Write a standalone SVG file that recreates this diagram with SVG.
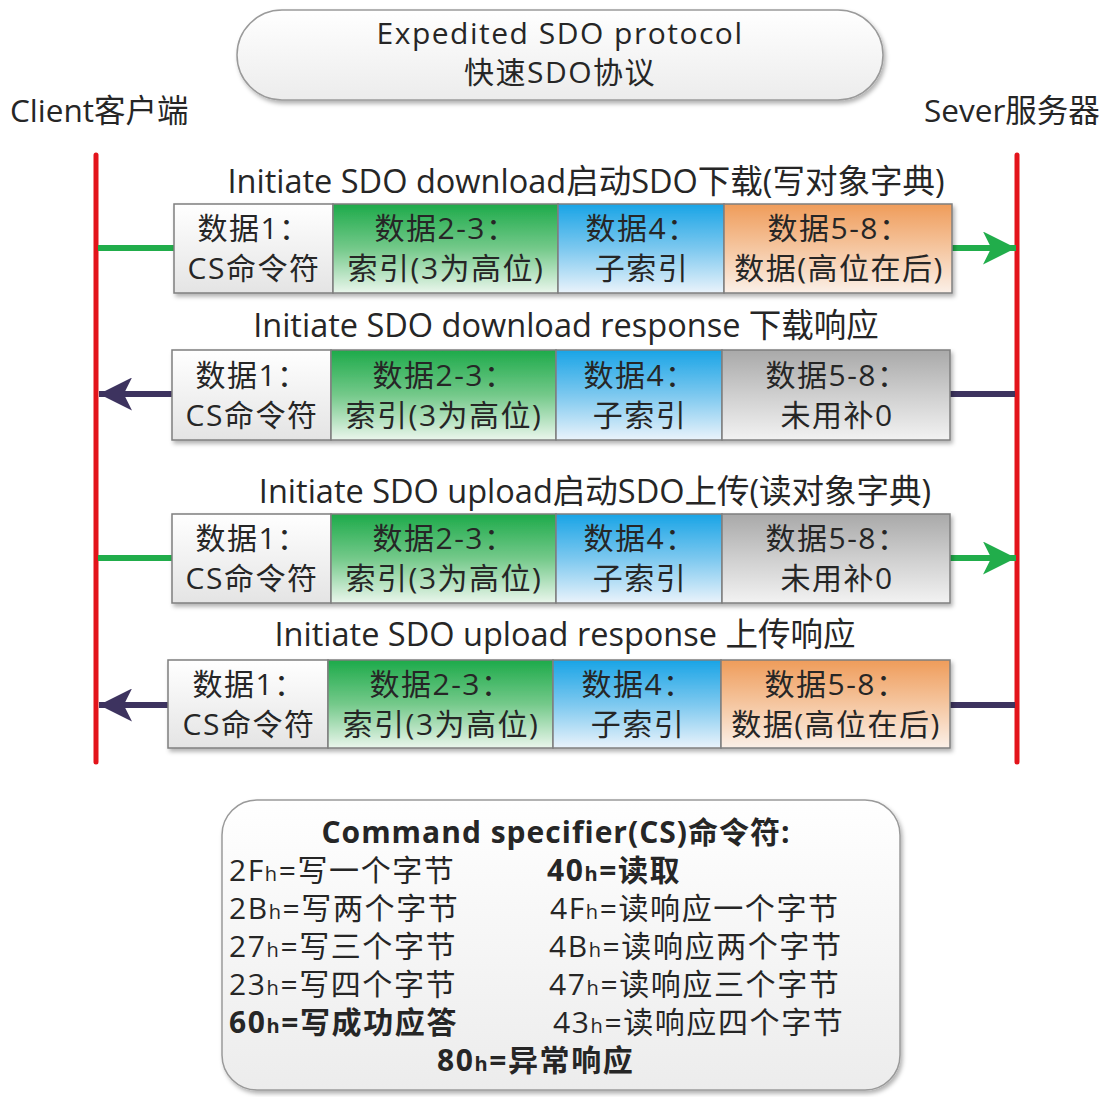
<svg xmlns="http://www.w3.org/2000/svg" width="1114" height="1097" viewBox="0 0 1114 1097">
<defs>
<style>
text{font-family:"Open Sans","Noto Sans CJK SC",sans-serif;fill:#262626}
.t{font-size:30px;letter-spacing:1.5px;text-anchor:middle}
.side{font-size:31.5px}
.lbl{font-size:32.5px;text-anchor:middle}
.c{font-size:30px;letter-spacing:1.5px;text-anchor:middle}
.k{font-size:30px;letter-spacing:1.6px}
.kt{font-size:30px;letter-spacing:1px;text-anchor:middle}
.b{font-weight:bold}
.h{font-size:20px}
.cell{stroke:#7f7f7f;stroke-width:1.5}
.life{stroke:#e3141b;stroke-width:5;stroke-linecap:round}
.g{stroke:#21ad4b;stroke-width:6;fill:none}
.p{stroke:#3d335f;stroke-width:6;fill:none}
</style>
<linearGradient id="gw" x1="0" y1="0" x2="0" y2="1"><stop offset="0" stop-color="#ffffff"/><stop offset="1" stop-color="#e4e4e4"/></linearGradient>
<linearGradient id="gg" x1="0" y1="0" x2="0" y2="1"><stop offset="0" stop-color="#1daa4a"/><stop offset="0.5" stop-color="#74c98a"/><stop offset="1" stop-color="#eaf6ec"/></linearGradient>
<linearGradient id="gb" x1="0" y1="0" x2="0" y2="1"><stop offset="0" stop-color="#19a4e6"/><stop offset="0.5" stop-color="#7cc8ef"/><stop offset="1" stop-color="#eaf3fb"/></linearGradient>
<linearGradient id="go" x1="0" y1="0" x2="0" y2="1"><stop offset="0" stop-color="#ef9c5a"/><stop offset="0.5" stop-color="#f5c6a0"/><stop offset="1" stop-color="#fbf0e8"/></linearGradient>
<linearGradient id="gy" x1="0" y1="0" x2="0" y2="1"><stop offset="0" stop-color="#a9a9a9"/><stop offset="0.5" stop-color="#cfcfcf"/><stop offset="1" stop-color="#f2f2f2"/></linearGradient>
<linearGradient id="gt" x1="0" y1="0" x2="0" y2="1"><stop offset="0" stop-color="#ffffff"/><stop offset="1" stop-color="#ececec"/></linearGradient>
<filter id="sh" x="-5%" y="-10%" width="110%" height="130%"><feDropShadow dx="2" dy="3" stdDeviation="2" flood-color="#000" flood-opacity="0.3"/></filter>
<marker id="ag" viewBox="0 0 10 10" refX="10" refY="5" markerWidth="5.5" markerHeight="5.5" markerUnits="strokeWidth" orient="auto"><path d="M0,0 L10,5 L0,10 L2.5,5 Z" fill="#21ad4b"/></marker>
<marker id="ap" viewBox="0 0 10 10" refX="10" refY="5" markerWidth="5.5" markerHeight="5.5" markerUnits="strokeWidth" orient="auto"><path d="M0,0 L10,5 L0,10 L2.5,5 Z" fill="#3d335f"/></marker>
</defs>
<rect width="1114" height="1097" fill="#ffffff"/>

<g id="title">
<rect x="237" y="10" width="646" height="90" rx="45" fill="url(#gt)" stroke="#9a9a9a" stroke-width="1.5" filter="url(#sh)"/>
<text class="t" x="560" y="44">Expedited SDO protocol</text>
<text class="t" x="560" y="83">快速SDO协议</text>
</g>
<g id="client"><text class="side" x="10" y="122">Client客户端</text><line class="life" x1="96" y1="155" x2="96" y2="762"/></g>
<g id="server"><text class="side" x="924" y="122">Sever服务器</text><line class="life" x1="1017" y1="155" x2="1017" y2="762"/></g>

<g id="connectors">
<line class="g" x1="98" y1="248" x2="174" y2="248"/>
<line class="g" x1="952" y1="248" x2="1016" y2="248" marker-end="url(#ag)"/>
<line class="p" x1="172" y1="394" x2="99" y2="394" marker-end="url(#ap)"/>
<line class="p" x1="950" y1="394" x2="1015" y2="394"/>
<line class="g" x1="98" y1="558" x2="172" y2="558"/>
<line class="g" x1="950" y1="558" x2="1016" y2="558" marker-end="url(#ag)"/>
<line class="p" x1="168" y1="705" x2="99" y2="705" marker-end="url(#ap)"/>
<line class="p" x1="950" y1="705" x2="1015" y2="705"/>
</g>

<g id="msg1">
<text class="lbl" x="586" y="193">Initiate SDO download启动SDO下载(写对象字典)</text>
<g filter="url(#sh)">
<rect class="cell" x="174" y="204" width="159" height="89" fill="url(#gw)"/>
<rect class="cell" x="333" y="204" width="225" height="89" fill="url(#gg)"/>
<rect class="cell" x="558" y="204" width="166" height="89" fill="url(#gb)"/>
<rect class="cell" x="724" y="204" width="228" height="89" fill="url(#go)"/>
</g>
<text class="c" x="254" y="239">数据1：</text><text class="c" x="254" y="279">CS命令符</text>
<text class="c" x="446" y="239">数据2-3：</text><text class="c" x="446" y="279">索引(3为高位)</text>
<text class="c" x="642" y="239">数据4：</text><text class="c" x="642" y="279">子索引</text>
<text class="c" x="839" y="239">数据5-8：</text><text class="c" x="839" y="279">数据(高位在后)</text>
</g>

<g id="msg2">
<text class="lbl" x="566" y="337">Initiate SDO download response 下载响应</text>
<g filter="url(#sh)">
<rect class="cell" x="172" y="350" width="159" height="90" fill="url(#gw)"/>
<rect class="cell" x="331" y="350" width="225" height="90" fill="url(#gg)"/>
<rect class="cell" x="556" y="350" width="166" height="90" fill="url(#gb)"/>
<rect class="cell" x="722" y="350" width="228" height="90" fill="url(#gy)"/>
</g>
<text class="c" x="252" y="386">数据1：</text><text class="c" x="252" y="426">CS命令符</text>
<text class="c" x="444" y="386">数据2-3：</text><text class="c" x="444" y="426">索引(3为高位)</text>
<text class="c" x="640" y="386">数据4：</text><text class="c" x="640" y="426">子索引</text>
<text class="c" x="837" y="386">数据5-8：</text><text class="c" x="837" y="426">未用补0</text>
</g>

<g id="msg3">
<text class="lbl" x="595" y="503">Initiate SDO upload启动SDO上传(读对象字典)</text>
<g filter="url(#sh)">
<rect class="cell" x="172" y="514" width="159" height="89" fill="url(#gw)"/>
<rect class="cell" x="331" y="514" width="225" height="89" fill="url(#gg)"/>
<rect class="cell" x="556" y="514" width="166" height="89" fill="url(#gb)"/>
<rect class="cell" x="722" y="514" width="228" height="89" fill="url(#gy)"/>
</g>
<text class="c" x="252" y="549">数据1：</text><text class="c" x="252" y="589">CS命令符</text>
<text class="c" x="444" y="549">数据2-3：</text><text class="c" x="444" y="589">索引(3为高位)</text>
<text class="c" x="640" y="549">数据4：</text><text class="c" x="640" y="589">子索引</text>
<text class="c" x="837" y="549">数据5-8：</text><text class="c" x="837" y="589">未用补0</text>
</g>

<g id="msg4">
<text class="lbl" x="565" y="646">Initiate SDO upload response 上传响应</text>
<g filter="url(#sh)">
<rect class="cell" x="168" y="660" width="160" height="88" fill="url(#gw)"/>
<rect class="cell" x="328" y="660" width="225" height="88" fill="url(#gg)"/>
<rect class="cell" x="553" y="660" width="168" height="88" fill="url(#gb)"/>
<rect class="cell" x="721" y="660" width="229" height="88" fill="url(#go)"/>
</g>
<text class="c" x="249" y="695">数据1：</text><text class="c" x="249" y="735">CS命令符</text>
<text class="c" x="441" y="695">数据2-3：</text><text class="c" x="441" y="735">索引(3为高位)</text>
<text class="c" x="638" y="695">数据4：</text><text class="c" x="638" y="735">子索引</text>
<text class="c" x="836" y="695">数据5-8：</text><text class="c" x="836" y="735">数据(高位在后)</text>
</g>

<g id="legend">
<rect x="222" y="800" width="678" height="290" rx="35" fill="url(#gt)" stroke="#9a9a9a" stroke-width="1.5" filter="url(#sh)"/>
<text class="kt b" x="556" y="843">Command specifier(CS)命令符:</text>
<text class="k" x="229" y="881">2F<tspan class="h">h</tspan>=写一个字节</text>
<text class="k" x="229" y="919">2B<tspan class="h">h</tspan>=写两个字节</text>
<text class="k" x="229" y="957">27<tspan class="h">h</tspan>=写三个字节</text>
<text class="k" x="229" y="995">23<tspan class="h">h</tspan>=写四个字节</text>
<text class="k b" x="229" y="1033">60<tspan class="h">h</tspan>=写成功应答</text>
<text class="k b" x="547" y="881">40<tspan class="h">h</tspan>=读取</text>
<text class="k" x="550" y="919">4F<tspan class="h">h</tspan>=读响应一个字节</text>
<text class="k" x="549" y="957">4B<tspan class="h">h</tspan>=读响应两个字节</text>
<text class="k" x="549" y="995">47<tspan class="h">h</tspan>=读响应三个字节</text>
<text class="k" x="553" y="1033">43<tspan class="h">h</tspan>=读响应四个字节</text>
<text class="k b" x="437" y="1071">80<tspan class="h">h</tspan>=异常响应</text>
</g>
</svg>
